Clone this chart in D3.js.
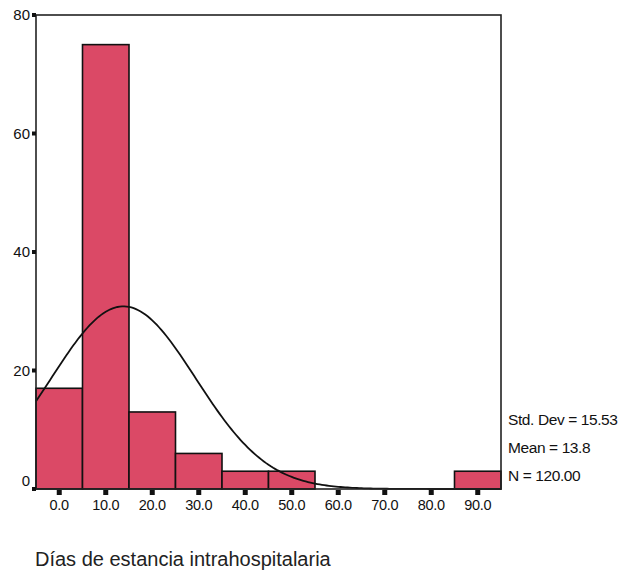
<!DOCTYPE html>
<html>
<head>
<meta charset="utf-8">
<script src="https://cdn.jsdelivr.net/npm/d3@7"></script>
<style>
  html, body { margin: 0; padding: 0; background: #fff; }
  svg { display: block; font-family: "Liberation Sans", Arial, sans-serif; }
</style>
</head>
<body>
<div id="hist"></div>
<script>
// Histogram – Días de estancia intrahospitalaria (SPSS style, normal curve)

const BIN_CENTERS = [0, 10, 20, 30, 40, 50, 60, 70, 80, 90];
const BIN_COUNTS  = [17, 75, 13, 6, 3, 3, 0, 0, 0, 3];
const X_TICKS     = [0, 10, 20, 30, 40, 50, 60, 70, 80, 90];
const Y_TICKS     = [0, 20, 40, 60, 80];
const STATS       = ["Std. Dev = 15.53", "Mean = 13.8", "N = 120.00"];
const MEAN = 13.8, SD = 15.53, N = 120, BIN_W = 10;
const X_TITLE = "Días de estancia intrahospitalaria";

/* ── Layout ── */
const totalW = 622, totalH = 573;
const plot = { left: 36, top: 15, right: 501, bottom: 489 };

const svg = d3.select("#hist").append("svg")
  .attr("width", totalW).attr("height", totalH);

/* ── Scales ── */
const x = d3.scaleLinear().domain([-5, 95]).range([plot.left, plot.right]);
const y = d3.scaleLinear().domain([0, 80]).range([plot.bottom, plot.top]);

/* ── Bars ── */
const bins = BIN_CENTERS.map((c, i) => ({ c, n: BIN_COUNTS[i] })).filter(d => d.n > 0);
svg.append("g").selectAll("rect")
  .data(bins)
  .join("rect")
  .attr("x", d => x(d.c - BIN_W / 2))
  .attr("y", d => y(d.n))
  .attr("width", d => x(d.c + BIN_W / 2) - x(d.c - BIN_W / 2))
  .attr("height", d => y(0) - y(d.n))
  .attr("fill", "#db4966")
  .attr("stroke", "#111")
  .attr("stroke-width", 1.6);

/* ── Normal curve from mean / sd ── */
const pdf = v => N * BIN_W * Math.exp(-0.5 * ((v - MEAN) / SD) ** 2) / (SD * Math.sqrt(2 * Math.PI));
const curveX = d3.range(-5, 95.01, 0.5);
svg.append("path")
  .datum(curveX)
  .attr("fill", "none")
  .attr("stroke", "#111")
  .attr("stroke-width", 1.8)
  .attr("d", d3.line().x(v => x(v)).y(v => y(pdf(v))));

/* ── Frame ── */
svg.append("rect")
  .attr("x", plot.left).attr("y", plot.top)
  .attr("width", plot.right - plot.left).attr("height", plot.bottom - plot.top)
  .attr("fill", "none").attr("stroke", "#222").attr("stroke-width", 1.6);

/* ── Y ticks ── */
const yt = svg.append("g");
yt.selectAll("rect").data(Y_TICKS).join("rect")
  .attr("x", plot.left - 4).attr("y", d => y(d) - 2)
  .attr("width", 4).attr("height", 4).attr("fill", "#111");
yt.selectAll("text").data(Y_TICKS).join("text")
  .attr("x", plot.left - 6)
  .attr("y", d => y(d) + (d === 0 ? -8 : 0))
  .attr("dy", "0.35em")
  .attr("text-anchor", "end")
  .attr("font-size", 15).attr("fill", "#111")
  .text(d => d);

/* ── X ticks ── */
const xt = svg.append("g");
xt.selectAll("rect").data(X_TICKS).join("rect")
  .attr("x", d => x(d) - 2.5).attr("y", plot.bottom + 1)
  .attr("width", 5).attr("height", 5).attr("fill", "#111");
xt.selectAll("text").data(X_TICKS).join("text")
  .attr("x", d => x(d)).attr("y", plot.bottom + 21)
  .attr("text-anchor", "middle")
  .attr("font-size", 14.5).attr("fill", "#111")
  .attr("letter-spacing", -0.3)
  .text(d => d3.format(".1f")(d));

/* ── Stats ── */
svg.append("g").selectAll("text").data(STATS).join("text")
  .attr("x", plot.right + 7)
  .attr("y", (d, i) => 425 + i * 28)
  .attr("font-size", 15.5).attr("fill", "#111")
  .attr("letter-spacing", -0.4)
  .text(d => d);

/* ── Axis title ── */
svg.append("text")
  .attr("x", 35).attr("y", 566)
  .attr("font-size", 20).attr("fill", "#222")
  .text(X_TITLE);
</script>
</body>
</html>
